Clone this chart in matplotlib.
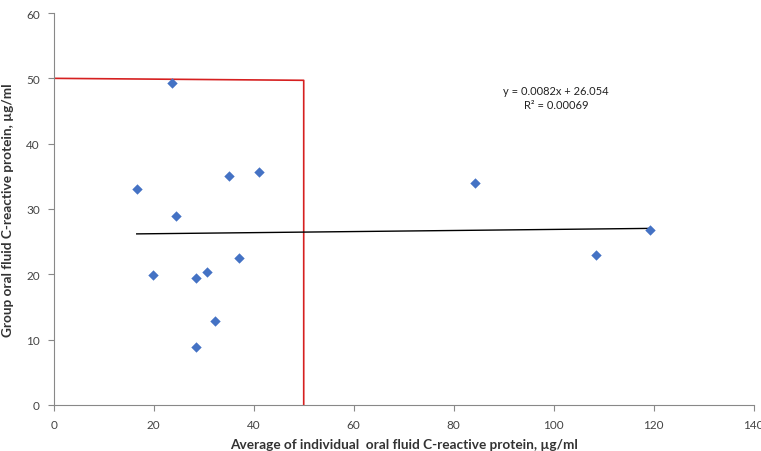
import matplotlib
matplotlib.use("Agg")
import matplotlib.pyplot as plt
import numpy as np

plt.rcParams['font.family'] = ['Lato', 'DejaVu Sans']

x_vals = [16.6, 23.7, 24.4, 35.1, 41.1, 19.9, 28.5, 30.7, 37.0, 32.3, 28.5, 84.3, 119.3, 108.4]
y_vals = [33.0, 49.3, 28.9, 35.1, 35.7, 19.9, 19.5, 20.3, 22.5, 12.8, 8.8, 34.0, 26.8, 22.9]
slope, intercept = 0.0082, 26.054
eq_text = "y = 0.0082x + 26.054"
r2_text = "R² = 0.00069"
red_x = [0, 50, 50]
red_y = [50, 49.7, 0]

fig = plt.figure(figsize=(7.61, 4.52), dpi=100)
ax = fig.add_axes([0.0706, 0.1018, 0.9198, 0.8672])

ax.plot(red_x, red_y, color='#d62020', lw=1.2, zorder=2)
xs = np.array([min(x_vals), max(x_vals)])
ax.plot(xs, slope * xs + intercept, color='black', lw=1.0, zorder=3)
ax.scatter(x_vals, y_vals, marker='D', s=28, color='#4472C4', zorder=4, linewidths=0)

ax.text(100.5, 48.1, eq_text, ha='center', va='center', fontsize=8, color='#222222')
ax.text(100.5, 46.0, r2_text, ha='center', va='center', fontsize=8, color='#222222')

ax.set_xlim(0, 140)
ax.set_ylim(0, 60)
ax.set_xticks(range(0, 141, 20))
ax.set_yticks(range(0, 61, 10))
for s in ['top', 'right']:
    ax.spines[s].set_visible(False)
for s in ['left', 'bottom']:
    ax.spines[s].set_color('#888888')
    ax.spines[s].set_linewidth(0.8)
ax.tick_params(direction='out', length=4, color='#888888', labelsize=8.5, labelcolor='#444444', pad=6)

ax.set_xlabel("Average of individual  oral fluid C-reactive protein, µg/ml", fontsize=9.8, fontweight='bold', color='#333333', labelpad=6)
ax.set_ylabel("Group oral fluid C-reactive protein, µg/ml", fontsize=9.8, fontweight='bold', color='#333333', labelpad=9)

fig.savefig("out.png", dpi=100)
